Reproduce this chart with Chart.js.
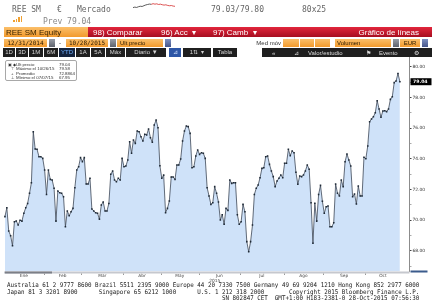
<!DOCTYPE html>
<html lang="es">
<head>
<meta charset="utf-8">
<title>REE SM Equity</title>
<script src="https://cdn.jsdelivr.net/npm/chart.js@4.4.1/dist/chart.umd.min.js"></script>
<style>
body { margin: 0; width: 432px; height: 306px; overflow: hidden; background: #fff; position: relative; font-family: "Liberation Sans", Arial, sans-serif; }
#chart { position: absolute; left: 0; top: 0; }
.t { position: absolute; white-space: pre; line-height: 1; }
.mono { font-family: "DejaVu Sans Mono", monospace; }
.box { position: absolute; }
.or { background: linear-gradient(#fbbf6a, #f29a2c); color: #2a1a00; font-size: 6px; line-height: 8px; white-space: pre; }
.btn { background: linear-gradient(#9a9fa8, #5d626c); }
.bbtn { background: linear-gradient(#7d90c0, #45558a); }
.dk { position: absolute; top: 48px; height: 9px; background: #1f1f1f; color: #d6d6d6; font-size: 6px; line-height: 9px; text-align: center; white-space: pre; }
.foot { position: absolute; left: 7px; font-family: "DejaVu Sans Mono", monospace; font-size: 6.4px; line-height: 1; color: #222; white-space: pre; transform: scaleX(0.916); transform-origin: 0 0; }
#legend { position: absolute; left: 5px; top: 60px; width: 72px; height: 21px; border: 1px solid #a8a8a8; border-radius: 2px; background: #fff; box-sizing: border-box; font-size: 4.4px; color: #333; }
#legend div { position: absolute; white-space: pre; line-height: 1; }
</style>
</head>
<body>
<canvas id="chart" width="432" height="306"></canvas>

<!-- header line 1 -->
<div class="t mono" style="left:12px;top:5.5px;font-size:8px;color:#666">REE SM</div>
<div class="t mono" style="left:57px;top:5.5px;font-size:8px;color:#666">€</div>
<div class="t mono" style="left:77px;top:5.5px;font-size:8px;color:#666">Mercado</div>
<canvas id="spark" width="44" height="10" style="position:absolute;left:132px;top:1px"></canvas>
<div class="t mono" style="left:211px;top:5.5px;font-size:8px;color:#666">79.03/79.80</div>
<div class="t mono" style="left:302px;top:5.5px;font-size:8px;color:#666">80x25</div>

<!-- header line 2 -->
<div class="box" style="left:13px;top:20px;width:1.5px;height:2px;background:#f0a030"></div>
<div class="box" style="left:15.5px;top:18.5px;width:1.5px;height:3.5px;background:#f0a030"></div>
<div class="box" style="left:18px;top:17px;width:1.5px;height:5px;background:#f0a030"></div>
<div class="box" style="left:20.5px;top:15.5px;width:1.5px;height:6.5px;background:#f0a030"></div>
<div class="t mono" style="left:43px;top:17.5px;font-size:8px;color:#888">Prev 79.04</div>

<!-- header line 3 -->
<div class="box or" style="left:4px;top:27px;width:84px;height:10px"></div>
<div class="t" style="left:6px;top:28.5px;font-size:8px;color:#3b2500">REE SM Equity</div>
<div class="box" style="left:88px;top:27px;width:344px;height:10px;background:linear-gradient(#e2263c,#a60e20)"></div>
<div class="t" style="left:93px;top:28.5px;font-size:8px;color:#fff">98) Comparar</div>
<div class="t" style="left:161px;top:28.5px;font-size:8px;color:#fff">96) Acc  ▾</div>
<div class="t" style="left:213px;top:28.5px;font-size:8px;color:#fff">97) Camb  ▾</div>
<div class="t" style="right:13px;top:28.5px;font-size:8px;color:#fff">Gráfico de líneas</div>

<!-- header line 4 -->
<div class="box or mono" style="left:4px;top:39px;width:43px;height:8px;text-align:center">12/31/2014</div>
<div class="box btn" style="left:49px;top:39px;width:6px;height:8px"></div>
<div class="t" style="left:59px;top:40px;font-size:6px;color:#222">-</div>
<div class="box or mono" style="left:66px;top:39px;width:42px;height:8px;text-align:center">10/28/2015</div>
<div class="box btn" style="left:110px;top:39px;width:6px;height:8px"></div>
<div class="box or" style="left:117px;top:39px;width:46px;height:8px;padding-left:3px;box-sizing:border-box">Ult precio</div>
<div class="box bbtn" style="left:165px;top:39px;width:6px;height:8px"></div>
<div class="t" style="right:151px;top:40px;font-size:6px;color:#333">Med móv</div>
<div class="box or" style="left:283px;top:39px;width:16px;height:8px"></div>
<div class="box or" style="left:300px;top:39px;width:14px;height:8px"></div>
<div class="box or" style="left:315px;top:39px;width:15px;height:8px"></div>
<div class="box or" style="left:335px;top:39px;width:56px;height:8px;padding-left:2px;box-sizing:border-box">Volumen</div>
<div class="box btn" style="left:393px;top:39px;width:6px;height:8px"></div>
<div class="box or" style="left:400px;top:39px;width:20px;height:8px;text-align:center">EUR</div>
<div class="box bbtn" style="left:422px;top:39px;width:6px;height:8px"></div>

<!-- header line 5 -->
<div class="dk" style="left:3px;width:12px">1D</div>
<div class="dk" style="left:16px;width:12px">3D</div>
<div class="dk" style="left:29px;width:14px">1M</div>
<div class="dk" style="left:44px;width:14px">6M</div>
<div class="dk" style="left:59px;width:16px;color:#6fb0ff;background:#14233d">YTD</div>
<div class="dk" style="left:76px;width:14px">1A</div>
<div class="dk" style="left:91px;width:14px">5A</div>
<div class="dk" style="left:106px;width:19px">Máx</div>
<div class="dk" style="left:126px;width:40px">Diario ▼</div>
<div class="dk" style="left:169px;width:12px;background:#2d56a6;color:#cfe0ff">⊿</div>
<div class="dk" style="left:183px;width:28px">1⇅  ▾</div>
<div class="dk" style="left:213px;width:24px">Tabla</div>
<div class="dk" style="left:262px;width:170px;text-align:left"></div>
<div class="t" style="left:272px;top:49.5px;font-size:6px;color:#ddd">«</div>
<div class="t" style="left:294px;top:49.5px;font-size:6px;color:#ddd">⊿</div>
<div class="t" style="left:308px;top:49.5px;font-size:6px;color:#ddd">Valor/estudio</div>
<div class="t" style="left:366px;top:49.5px;font-size:6px;color:#ddd">⚑</div>
<div class="t" style="left:379px;top:49.5px;font-size:6px;color:#ddd">Evento</div>
<div class="t" style="left:414px;top:49.5px;font-size:6px;color:#ddd">⚙</div>

<!-- legend inside the plot -->
<div id="legend">
  <div style="left:1.5px;top:2px">▣ ◆</div><div style="left:10px;top:2px">Ult precio</div><div style="left:53px;top:2px">79.04</div>
  <div style="left:5px;top:6.3px">⊤</div><div style="left:10px;top:6.3px">Máximo el 10/26/15</div><div style="left:53px;top:6.3px">79.58</div>
  <div style="left:5px;top:10.6px">+</div><div style="left:10px;top:10.6px">Promedio</div><div style="left:53px;top:10.6px">72.8864</div>
  <div style="left:5px;top:14.9px">⊥</div><div style="left:10px;top:14.9px">Mínimo el 07/07/15</div><div style="left:53px;top:14.9px">67.95</div>
</div>

<!-- footer -->
<div class="foot" style="top:282px">Australia 61 2 9777 8600 Brazil 5511 2395 9000 Europe 44 20 7330 7500 Germany 49 69 9204 1210 Hong Kong 852 2977 6000</div>
<div class="foot" style="top:288.8px">Japan 81 3 3201 8900      Singapore 65 6212 1000      U.S. 1 212 318 2000       Copyright 2015 Bloomberg Finance L.P.</div>
<div class="foot" style="top:295px">                                                             SN 802847 CET  GMT+1:00 H183-2381-0 28-Oct-2015 07:56:30</div>

<script>
// REE SM daily closes, 2015 YTD (Jan 2 - Oct 27)
const prices = [
    70.24, 70.82, 69.30, 69.00, 68.34, 69.91, 69.96, 69.69, 70.00, 69.95,
    70.46, 70.82, 71.10, 71.76, 72.45, 75.78, 74.65, 74.63, 74.15, 74.15,
    74.04, 73.28, 71.69, 73.28, 72.67, 72.63, 72.09, 69.95, 71.91, 71.80,
    71.76, 71.54, 69.58, 70.61, 70.30, 70.56, 70.78, 72.13, 73.28, 73.50,
    74.09, 73.83, 74.09, 72.37, 72.37, 72.74, 70.74, 70.61, 70.50, 70.46,
    70.08, 71.00, 71.20, 70.61,
    70.61, 71.10, 73.00, 73.22, 72.63, 72.52, 72.74, 72.63, 74.04, 73.50,
    73.54, 73.93, 75.13, 74.37, 75.24, 75.02, 75.83, 75.78, 75.45, 75.17,
    75.61, 75.57, 75.96, 75.39, 75.09, 76.22, 76.54, 76.04, 73.56, 72.74,
    72.95, 70.50, 70.78, 71.26, 72.83, 72.83, 72.67, 73.61, 73.61, 74.00,
    75.17, 75.83, 76.15, 76.11, 75.67, 73.43, 73.50, 74.20, 74.59, 74.30,
    74.41, 74.37, 74.04, 72.13, 71.59, 71.04, 71.15, 72.20, 71.76, 71.20,
    70.02, 70.37, 69.74, 70.78, 70.65, 72.63, 72.41, 72.45, 72.45, 70.37,
    69.74, 69.91, 71.04, 70.56, 68.61, 67.95, 68.61, 69.69, 71.69, 72.09,
    72.30, 72.78, 73.39, 73.43, 74.15, 74.20, 73.65, 73.22, 72.85, 72.20,
    72.56, 72.74, 72.96, 72.78, 73.72, 73.72, 74.63, 74.22, 74.52, 74.41,
    73.13, 72.35,
    72.89, 72.85, 72.96, 73.22, 73.61, 73.33, 71.15, 68.50, 71.11, 69.95,
    71.69, 72.28, 71.24, 70.46, 70.89, 70.93, 69.58, 69.58, 69.84, 72.37,
    71.76, 71.59, 72.63, 72.20, 73.82, 74.33, 73.93, 73.54, 71.54, 71.72,
    71.06, 72.24, 71.59, 71.59, 74.11, 74.02, 74.85, 76.43, 76.61, 76.76,
    77.02, 77.80, 77.26, 76.72, 77.13, 77.15, 77.09, 77.26, 77.89, 78.06,
    78.98, 79.09, 79.58, 79.04
];

// month names and the index of each month's first trading day
const monthLabels = ['Ene', 'Feb', 'Mar', 'Abr', 'May', 'Jun', 'Jul', 'Ago', 'Sep', 'Oct'];
const monthStarts = [0, 21, 41, 63, 83, 103, 125, 148, 169, 191];
const yearLabel = '2015';

// labelled ticks on the price axis
const yTickLabels = [68, 70, 72, 74, 76, 78, 80];

// little intraday sparkline in the header
const sparkValues = [3.0, 3.6, 3.2, 4.1, 4.7, 4.4, 5.4, 6.3, 6.9, 7.4, 7.1, 7.9, 7.3, 7.7, 6.9, 7.3, 6.6, 6.1, 6.5, 5.7, 5.3, 5.6, 4.9, 4.6];

// draws the time axis strip, month names and the last-price tag
const axisDecor = {
    id: 'axisDecor',
    afterDraw(chart) {
        const { ctx, chartArea: a, scales: { x, y } } = chart;
        ctx.save();

        ctx.fillStyle = '#c6c8ce';
        ctx.fillRect(a.left, a.bottom, a.right - a.left, 2);
        ctx.fillStyle = '#7c7f87';
        ctx.fillRect(a.left + 1, a.bottom, 47, 2);
        ctx.fillStyle = '#3b5b8c';
        ctx.fillRect(a.right + 1, a.bottom - 1, 17, 2);

        ctx.font = '4.3px "DejaVu Sans"';
        ctx.fillStyle = '#444';
        ctx.textAlign = 'center';
        ctx.textBaseline = 'middle';
        monthLabels.forEach((m, k) => {
            const first = monthStarts[k];
            const last = (k + 1 < monthStarts.length ? monthStarts[k + 1] : prices.length) - 1;
            ctx.fillText(m, x.getPixelForValue((first + last) / 2), a.bottom + 4.5);
            if (k > 0) {
                const bx = Math.round(x.getPixelForValue(first - 0.5)) + 0.5;
                ctx.strokeStyle = '#999';
                ctx.lineWidth = 1;
                ctx.beginPath();
                ctx.moveTo(bx, a.bottom + 2);
                ctx.lineTo(bx, a.bottom + 3.5);
                ctx.stroke();
            }
        });
        ctx.fillText(yearLabel, (a.left + a.right) / 2 + 8, a.bottom + 9.5);

        // last price tag on the right axis
        const lastVal = prices[prices.length - 1];
        const ly = y.getPixelForValue(lastVal);
        ctx.fillStyle = '#000';
        ctx.fillRect(a.right + 1, ly - 3.5, 21, 7);
        ctx.fillStyle = '#fff';
        ctx.textAlign = 'left';
        ctx.font = 'bold 4.6px "DejaVu Sans"';
        ctx.fillText(lastVal.toFixed(2), a.right + 3.5, ly + 0.3);

        ctx.restore();
    }
};

new Chart(document.getElementById('chart'), {
    type: 'line',
    data: {
        datasets: [{
            data: prices.map((v, i) => ({ x: i, y: v })),
            borderColor: '#3d4857',
            borderWidth: 0.8,
            backgroundColor: '#cfe2f9',
            fill: 'start',
            tension: 0,
            pointStyle: 'rect',
            pointRadius: 1.1,
            pointBorderWidth: 0,
            pointBackgroundColor: '#1f2a37'
        }]
    },
    options: {
        responsive: false,
        animation: false,
        devicePixelRatio: 1,
        events: [],
        layout: { padding: { top: 57, bottom: 34.5, left: 3.75, right: 0 } },
        plugins: { legend: { display: false }, tooltip: { enabled: false } },
        scales: {
            x: { type: 'linear', display: false, min: -0.5, max: 214.1 },
            y: {
                position: 'right',
                min: 66.663,
                max: 80.652,
                afterFit: scale => { scale.width = 22.5; },
                border: { display: true, color: '#8c8c8c', width: 1 },
                grid: {
                    drawOnChartArea: false,
                    tickLength: 2,
                    tickColor: c => yTickLabels.includes(c.tick.value) ? '#444' : '#aaa'
                },
                ticks: {
                    stepSize: 1,
                    includeBounds: false,
                    autoSkip: false,
                    padding: 1,
                    color: '#333',
                    font: { size: 4.4, family: 'DejaVu Sans' },
                    callback: v => yTickLabels.includes(v) ? v.toFixed(2) : ''
                }
            }
        }
    },
    plugins: [axisDecor]
});

new Chart(document.getElementById('spark'), {
    type: 'line',
    data: {
        labels: sparkValues.map((_, i) => i),
        datasets: [{
            data: sparkValues,
            borderWidth: 0.8,
            pointRadius: 0,
            tension: 0,
            segment: { borderColor: c => c.p0DataIndex < 10 ? '#333' : '#d42a2a' }
        }]
    },
    options: {
        responsive: false,
        animation: false,
        devicePixelRatio: 1,
        events: [],
        layout: { padding: 1 },
        plugins: { legend: { display: false }, tooltip: { enabled: false } },
        scales: { x: { display: false }, y: { display: false } }
    }
});
</script>
</body>
</html>
